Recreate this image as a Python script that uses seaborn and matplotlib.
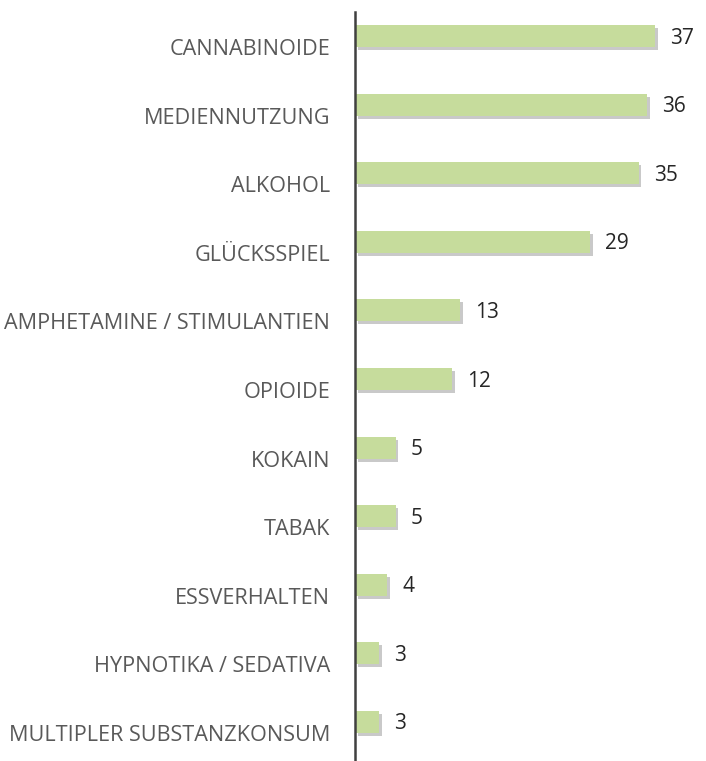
import matplotlib
matplotlib.use("Agg")
import matplotlib.pyplot as plt
import matplotlib.patheffects as pe
import matplotlib.transforms as mtransforms
import seaborn as sns
import pandas as pd

categories = ["CANNABINOIDE", "MEDIENNUTZUNG", "ALKOHOL", "GLÜCKSSPIEL",
              "AMPHETAMINE / STIMULANTIEN", "OPIOIDE", "KOKAIN", "TABAK",
              "ESSVERHALTEN", "HYPNOTIKA / SEDATIVA", "MULTIPLER SUBSTANZKONSUM"]
values = [37, 36, 35, 29, 13, 12, 5, 5, 4, 3, 3]

df = pd.DataFrame({"cat": categories, "val": values})

sns.set_theme(style="white")
plt.rcParams['font.family'] = ['Open Sans', 'DejaVu Sans']

fig = plt.figure(figsize=(7.06, 7.61), dpi=100)
ax = fig.add_axes([355/706, 0, 1 - 355/706, 1 - 12/761])

sns.barplot(data=df, y="cat", x="val", orient="h", color="#C6DC9C",
            width=0.32, saturation=1, ax=ax)

for p in ax.patches:
    p.set_edgecolor("none")
    p.set_path_effects([pe.SimplePatchShadow(offset=(2, -2.2), shadow_rgbFace="#666666", alpha=0.35),
                        pe.Normal()])

for i, v in enumerate(values):
    ax.text(v + 1.85, i + 0.03, str(v), va="center", ha="left",
            fontsize=15, color="#262626")

ax.set_xlim(0, 43.3)
ax.set_ylim(10.57, -0.35)
ax.set_xlabel("")
ax.set_ylabel("")
ax.set_xticks([])
ax.tick_params(axis="y", length=0, pad=18, labelsize=15.6, labelcolor="#595959")
offset = mtransforms.ScaledTranslation(0, -0.11, fig.dpi_scale_trans)
for lbl in ax.get_yticklabels():
    lbl.set_transform(lbl.get_transform() + offset)
for s in ["top", "right", "bottom"]:
    ax.spines[s].set_visible(False)
ax.spines["left"].set_color("#404040")
ax.spines["left"].set_linewidth(1.8)

fig.savefig("out.png", dpi=100)
